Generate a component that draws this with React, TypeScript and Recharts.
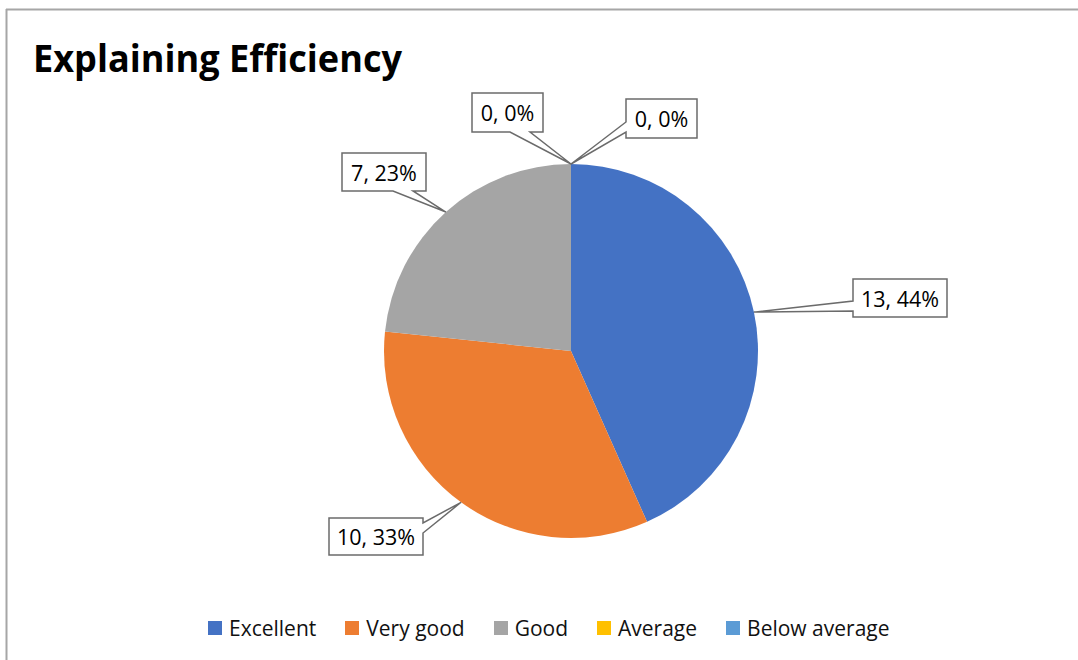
import React from "react";
import { PieChart, Pie, Cell, Legend } from "recharts";

const categories = ["Excellent", "Very good", "Good", "Average", "Below average"];
const counts = [13, 10, 7, 0, 0];
const percentLabels = ["44%", "33%", "23%", "0%", "0%"];
const colors = ["#4472C4", "#ED7D31", "#A5A5A5", "#FFC000", "#5B9BD5"];

const data = categories.map((name, i) => ({ name, value: counts[i] }));

// callout boxes (x, y, w, h) placed like the original label layout
const labelBoxes = [
  { x: 853, y: 279, w: 94, h: 38 },
  { x: 329, y: 518, w: 94, h: 37 },
  { x: 342, y: 153, w: 84, h: 38 },
  { x: 472, y: 93, w: 71, h: 39 },
  { x: 626, y: 99, w: 71, h: 39 },
];

const FONT = "'Open Sans', 'Noto Sans', sans-serif";
const RADIAN = Math.PI / 180;

function calloutPath(box: { x: number; y: number; w: number; h: number }, tx: number, ty: number) {
  const { x, y, w, h } = box;
  const r = x + w;
  const b = y + h;
  const overX = tx < x ? x - tx : tx > r ? tx - r : 0;
  const overY = ty < y ? y - ty : ty > b ? ty - b : 0;
  let side: string;
  if (overX >= overY) side = tx < x ? "left" : "right";
  else side = ty < y ? "top" : "bottom";

  const clamp = (v: number, lo: number, hi: number) => Math.max(lo, Math.min(hi, v));
  let p = `M${x},${y}`;
  if (side === "top") {
    const c = clamp(tx, x + 13 + 10, r - 13 - 10);
    p += ` L${c - 10},${y} L${tx},${ty} L${c + 10},${y}`;
  }
  p += ` L${r},${y}`;
  if (side === "right") {
    const c = clamp(ty, y + 5 + 5, b - 5 - 5);
    p += ` L${r},${c - 5} L${tx},${ty} L${r},${c + 5}`;
  }
  p += ` L${r},${b}`;
  if (side === "bottom") {
    const c = clamp(tx, x + 13 + 10, r - 13 - 10);
    p += ` L${c + 10},${b} L${tx},${ty} L${c - 10},${b}`;
  }
  p += ` L${x},${b}`;
  if (side === "left") {
    const c = clamp(ty, y + 6 + 5, b - 6 - 5);
    p += ` L${x},${c + 5} L${tx},${ty} L${x},${c - 5}`;
  }
  p += " Z";
  return p;
}

const renderLabel = (props: any) => {
  const { cx, cy, midAngle, outerRadius, index } = props;
  const box = labelBoxes[index];
  if (!box) return null;
  const tx = cx + outerRadius * Math.cos(-midAngle * RADIAN);
  const ty = cy + outerRadius * Math.sin(-midAngle * RADIAN);
  return (
    <g key={`lbl-${index}`}>
      <path d={calloutPath(box, tx, ty)} fill="#fff" stroke="#6b6b6b" strokeWidth={1.5} />
      <text
        x={box.x + box.w / 2}
        y={box.y + box.h / 2}
        textAnchor="middle"
        dominantBaseline="central"
        fontFamily={FONT}
        fontSize={21.5}
        fill="#000"
      >
        {`${counts[index]}, ${percentLabels[index]}`}
      </text>
    </g>
  );
};

const renderLegend = () => (
  <div style={{ display: "flex", alignItems: "center", paddingLeft: 208, fontFamily: FONT, fontSize: 21, color: "#111" }}>
    {categories.map((name, i) => (
      <div key={name} style={{ display: "flex", alignItems: "center", marginRight: 29 }}>
        <span style={{ width: 14, height: 14, background: colors[i], display: "inline-block", marginRight: 7 }} />
        <span style={{ lineHeight: "26px" }}>{name}</span>
      </div>
    ))}
  </div>
);

export default function App() {
  return (
    <div style={{ position: "absolute", left: 0, top: 0, width: 1078, height: 660, background: "#fff", overflow: "hidden" }}>
      <svg width={1078} height={660} style={{ position: "absolute", left: 0, top: 0 }}>
        <line x1={6} y1={9.5} x2={1078} y2={9.5} stroke="#a6a6a6" strokeWidth={2} />
        <line x1={6.5} y1={9} x2={6.5} y2={660} stroke="#a6a6a6" strokeWidth={2} />
        <text x={33} y={72} fontFamily={FONT} fontWeight="bold" fontSize={37} textLength={369} lengthAdjust="spacingAndGlyphs" fill="#000">
          Explaining Efficiency
        </text>
      </svg>
      <div style={{ position: "absolute", left: 0, top: 0 }}>
        <PieChart width={1078} height={660} margin={{ top: 0, right: 0, bottom: 0, left: 0 }}>
          <Pie
            data={data}
            dataKey="value"
            nameKey="name"
            cx={571}
            cy={351}
            outerRadius={187}
            startAngle={90}
            endAngle={-270}
            stroke="none"
            label={renderLabel}
            labelLine={false}
            isAnimationActive={false}
          >
            {data.map((entry, index) => (
              <Cell key={`cell-${index}`} fill={colors[index]} />
            ))}
          </Pie>
          <Legend content={renderLegend} wrapperStyle={{ left: 0, top: 615, width: 1078 }} />
        </PieChart>
      </div>
    </div>
  );
}
